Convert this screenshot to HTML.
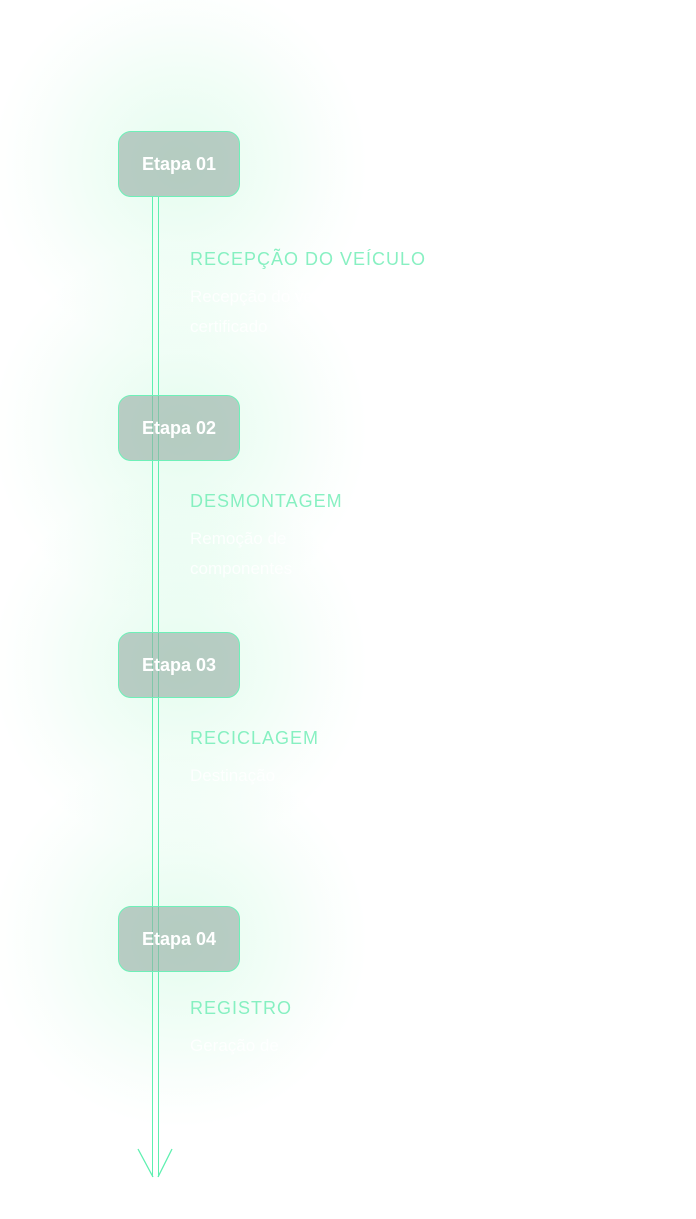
<!DOCTYPE html>
<html><head><meta charset="utf-8"><style>
body{margin:0;width:696px;height:1219px;background:#fff;position:relative;overflow:hidden;font-family:"Liberation Sans",sans-serif}
.glow{position:absolute;width:380px;height:380px;border-radius:50%;background:radial-gradient(circle,rgba(110,240,165,0.18) 0%,rgba(110,240,165,0.09) 35%,rgba(110,240,165,0.03) 55%,rgba(110,240,165,0) 70%)}
.line{position:absolute;top:197px;width:1.2px;height:980px;background:#5ef0b0}
.box{position:absolute;left:118px;width:120px;height:64px;border:1.5px solid #6ef0b8;border-radius:13px;background:rgba(150,175,165,0.62);color:#fff;font-weight:bold;font-size:18px;display:flex;align-items:center;justify-content:center}
.t{position:absolute;left:190px;color:#74eeb8;font-size:18px;letter-spacing:1px;font-weight:normal;opacity:0.85}
.b{position:absolute;left:190px;color:rgba(255,255,255,0.85);font-size:17px;line-height:30px;width:420px}
</style></head><body>
<div class="glow" style="left:-10px;top:-25px"></div>
<div class="glow" style="left:-10px;top:240px"></div>
<div class="glow" style="left:-10px;top:475px"></div>
<div class="glow" style="left:-10px;top:750px"></div>
<div class="line" style="left:152px"></div>
<div class="line" style="left:158px"></div>
<svg style="position:absolute;left:0;top:0" width="696" height="1219"><path d="M138 1149 L153 1177 M172 1149 L158 1177" stroke="#5ef0b0" stroke-width="1.3" fill="none"/></svg>
<div class="box" style="top:131px">Etapa 01</div>
<div class="box" style="top:395px">Etapa 02</div>
<div class="box" style="top:632px">Etapa 03</div>
<div class="box" style="top:906px">Etapa 04</div>
<div class="t" style="top:249px">RECEPÇÃO DO VEÍCULO</div>
<div class="b" style="top:282px">Recepção do veículo<br>certificado</div>
<div class="t" style="top:491px">DESMONTAGEM</div>
<div class="b" style="top:524px">Remoção de<br>componentes</div>
<div class="t" style="top:728px">RECICLAGEM</div>
<div class="b" style="top:761px">Destinação</div>
<div class="t" style="top:998px">REGISTRO</div>
<div class="b" style="top:1031px">Geração de</div>
</body></html>
